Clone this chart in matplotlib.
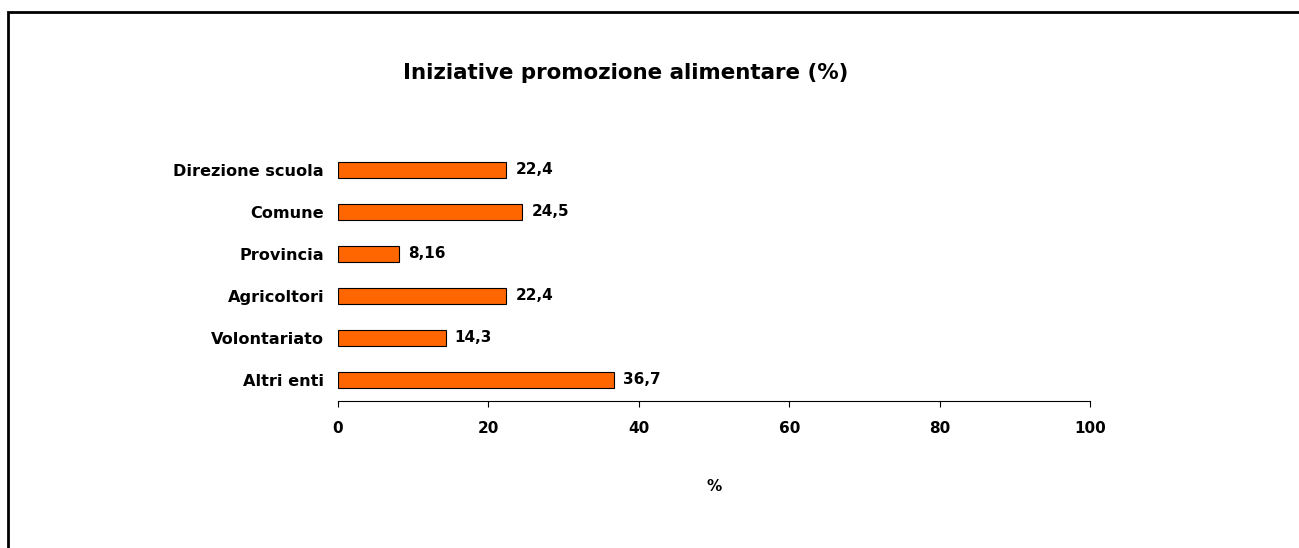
import matplotlib.pyplot as plt
from matplotlib.patches import Rectangle

plt.rcParams['font.family'] = ['DejaVu Sans']

categories = ['Direzione scuola', 'Comune', 'Provincia', 'Agricoltori',
              'Volontariato', 'Altri enti']
values = [22.4, 24.5, 8.16, 22.4, 14.3, 36.7]
value_labels = ['22,4', '24,5', '8,16', '22,4', '14,3', '36,7']
x_ticks = [0, 20, 40, 60, 80, 100]

fig = plt.figure(figsize=(12.99, 5.48), dpi=100)

# outer frame (only top and left visible, cut off at right/bottom)
fig.patches.append(Rectangle((8 / 1299, -0.1), 1.1, 1.1 - 12 / 548,
                             transform=fig.transFigure, fill=False,
                             edgecolor='black', linewidth=2))

ax = fig.add_axes([338 / 1299, 1 - 401 / 548, 752 / 1299, 252 / 548])

ypos = list(range(len(categories)))[::-1]
ax.barh(ypos, values, height=0.4, color='#FF6600', edgecolor='black',
        linewidth=0.8)

for y, v, lab in zip(ypos, values, value_labels):
    ax.text(v + 1.2, y, lab, va='center', ha='left', fontsize=11,
            fontweight='bold')

ax.set_xlim(0, 100)
ax.set_ylim(-0.5, 5.5)
ax.set_xticks(x_ticks)
ax.set_xticklabels([str(t) for t in x_ticks], fontsize=11, fontweight='bold')
ax.set_yticks(ypos)
ax.set_yticklabels(categories, fontsize=11.6, fontweight='bold')
ax.tick_params(axis='y', length=0, pad=10)
ax.tick_params(axis='x', length=4, width=0.8, pad=10.5, direction='out')

for s in ['top', 'right', 'left']:
    ax.spines[s].set_visible(False)
ax.spines['bottom'].set_linewidth(0.8)

ax.set_xlabel('%', fontsize=11, fontweight='bold', labelpad=31)

fig.text(626 / 1299, 1 - 73 / 548, 'Iniziative promozione alimentare (%)',
         ha='center', va='center', fontsize=15.4, fontweight='bold')

fig.savefig('out.png', dpi=100)
